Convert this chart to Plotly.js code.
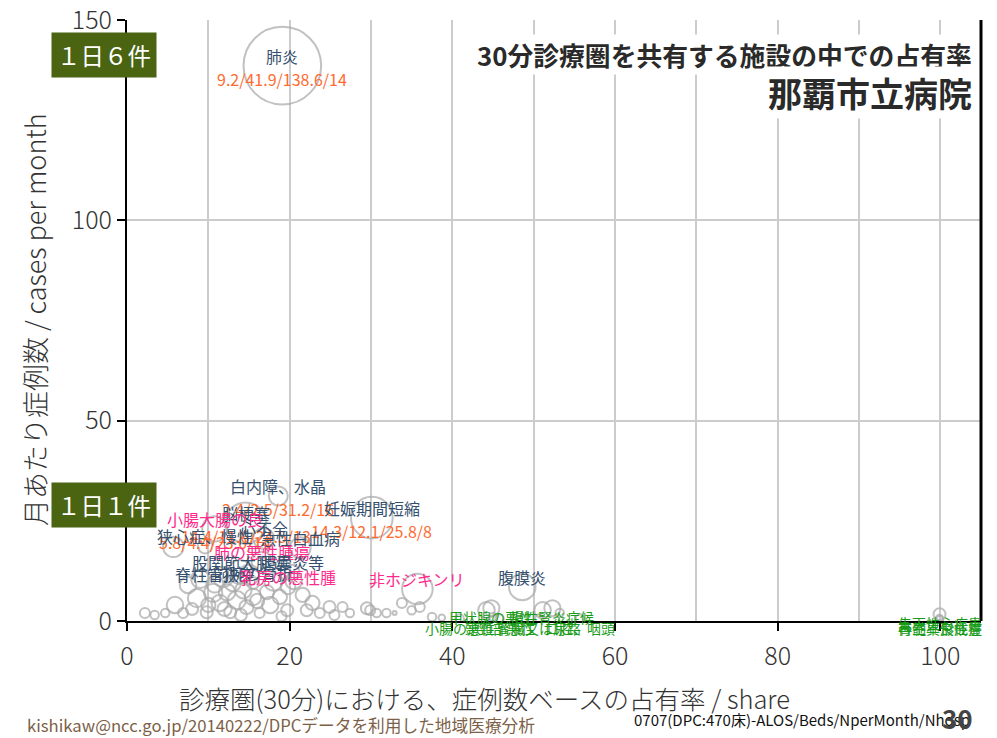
<!DOCTYPE html>
<html>
<head>
<meta charset="utf-8">
<script src="https://cdn.plot.ly/plotly-3.0.1.min.js"></script>
<style>html,body{margin:0;padding:0;background:#fff;}#chart{width:997px;height:738px;}</style>
</head>
<body>
<div id="chart"></div>
<script>
// ---- labeled diseases ----
const labNames = ['肺炎','白内障、水晶','妊娠期間短縮','脳梗塞','小腸大腸の良','狭心症、慢性','心不全','急性白血病','肺の悪性腫瘍','股関節大腿近','胆嚢炎等','脊柱管狭窄','前腕の骨折','乳房の悪性腫','非ホジキンリ','腹膜炎',
                  '甲状腺の悪性','慢性腎炎症候','小腸の悪性','頭頸部悪性','腎臓又は尿路','口腔、咽頭','先天性心疾患','再生不良性貧','骨髄異形成症'];
const labShare = [19.1,18.6,30.1,14.6,10.8,9.6,16.8,21.3,16.6,13.9,20.3,10.8,15.5,19.8,35.7,48.6,
                  44.8,52.3,40.9,45.8,50.7,55.7,99.9,99.9,99.9];
const labPerMonth = [138.6,31.2,25.8,24.5,23.0,18.7,20.6,18.3,14.7,12.2,12.2,9.2,9.5,8.5,8.0,8.5,
                  3.2,3.2,0.6,0.6,0.6,0.6,1.7,0.6,0.4];
const labBeds = [41.9,2.5,12.1,11.6,4.4,1.5,3.0,3.0,3.0,4.0,1.5,2.0,1.0,1.5,6.5,4.9,
                  1.8,1.8,0.5,0.5,0.5,0.5,1.0,0.4,0.3];
const labALOS = [9.2,2.4,14.3,14.4,5.8,null,null,null,null,null,null,null,null,null,null,null,
                  null,null,null,null,null,null,null,null,null];
const labNhosp = [14,16,8,13,14,null,null,null,null,null,null,null,null,null,null,null,
                  null,null,null,null,null,null,null,null,null];
const labGroup = ['b','b','b','b','p','b','b','b','p','b','b','b','b','p','p','b',
                  'g','g','g','g','g','g','g','g','g'];

// ---- unlabeled diseases ----
const share = [2.2,3.4,4.7,5.9,6.9,8.6,9.8,10.6,11.4,12.3,12.7,13.5,14.3,14.7,15.5,16.3,17.2,17.6,18.8,19.7,
               21.6,22.1,23.7,24.9,26.5,27.4,29.5,30.7,31.9,32.9,36.0,29.9,33.8,35.0,37.5,38.7,44.2,45.0,51.1,53.2,
               5.7,7.5,9.0,11.8,13.0,15.0,16.0,18.0,20.5,22.8,12.0,14.0,10.0,8.0,25.5,19.0];
const perMonth = [2.0,1.5,2.0,4.0,2.0,5.7,2.2,7.0,4.5,7.2,2.2,5.2,7.7,3.5,6.0,2.0,7.2,4.0,6.0,2.7,
               6.5,2.7,2.0,3.5,3.5,2.0,3.2,2.0,2.0,2.0,3.5,2.7,4.5,2.7,1.0,0.8,2.7,1.0,2.7,2.0,
               18.5,9.0,10.5,11.0,9.5,11.5,5.0,9.8,10.0,4.5,3.0,1.5,4.0,3.0,1.5,1.2];
const beds = [0.7,0.5,0.5,1.9,0.7,2.3,1.0,2.3,1.9,1.9,1.0,2.3,1.9,1.4,1.9,0.7,1.4,1.9,1.4,1.0,
               1.4,1.0,0.7,1.0,0.7,0.5,1.0,0.5,0.5,0.1,0.7,0.7,0.7,0.5,0.5,0.3,1.9,0.5,1.9,0.5,
               2.9,1.9,2.3,2.9,1.9,2.9,1.4,2.3,1.9,1.4,1.4,1.0,1.4,1.0,0.7,0.7];

// ---- text ----
const titleLine1 = '30分診療圏を共有する施設の中での占有率';
const titleLine2 = '那覇市立病院';
const xTitle = '診療圏(30分)における、症例数ベースの占有率 / share';
const yTitle = '月あたり症例数 / cases per month';
const refLines = [{text:'１日６件', y:141.3},{text:'１日１件', y:29}];
const footLeft = 'kishikaw@ncc.go.jp/20140222/DPCデータを利用した地域医療分析';
const footRight = '0707(DPC:470床)-ALOS/Beds/NperMonth/Nhosp';
const pageNo = '30';

const F = '"Noto Sans CJK JP", "Noto Sans", sans-serif';
const groupColor = {b:'#34506e', p:'#ff2a8c', g:'#1a9c1a'};

const bubble = {
  type:'scatter', mode:'markers',
  x: share.concat(labShare), y: perMonth.concat(labPerMonth),
  marker:{size: beds.concat(labBeds), sizemode:'area', sizeref:0.0139, sizemin:2,
          color:'rgba(0,0,0,0)', line:{color:'#a8a8a8', width:2}},
  hoverinfo:'skip', showlegend:false
};

const ann = [];
for (let i=0;i<labNames.length;i++){
  const g = labGroup[i];
  ann.push({x:labShare[i], y:labPerMonth[i], xref:'x', yref:'y', text:labNames[i], showarrow:false,
    yshift: g==='g' ? -9 : 10, font:{family:F, size: g==='g'?14:16, color:groupColor[g]}});
  if (labALOS[i]!==null){
    ann.push({x:labShare[i], y:labPerMonth[i], xref:'x', yref:'y', showarrow:false, yshift:-13,
      text: labALOS[i].toFixed(1)+'/'+labBeds[i].toFixed(1)+'/'+labPerMonth[i].toFixed(1)+'/'+labNhosp[i],
      font:{family:F, size:16, color:'#ff6a30'}});
  }
}
refLines.forEach(r=>{
  ann.push({x:-0.0275, xref:'paper', xanchor:'center', y:r.y, yref:'y', yanchor:'middle', text:r.text, showarrow:false,
    bgcolor:'#4a6412', borderpad:5, font:{family:F, size:23.5, color:'#ffffff'}});
});
ann.push({x:0.992, y:0.942, xref:'paper', yref:'paper', xanchor:'right', yanchor:'middle', text:'<b>'+titleLine1+'</b>',
  showarrow:false, bgcolor:'#ffffff', font:{family:F, size:25.8, color:'#2a2a2a'}});
ann.push({x:0.992, y:0.879, xref:'paper', yref:'paper', xanchor:'right', yanchor:'middle', text:'<b>'+titleLine2+'</b>',
  showarrow:false, bgcolor:'#ffffff', font:{family:F, size:34, color:'#2a2a2a'}});
// axis titles
ann.push({x:0.419, y:-0.1265, xref:'paper', yref:'paper', xanchor:'center', yanchor:'middle', text:xTitle,
  showarrow:false, font:{family:F, size:25.5, color:'#333333', weight:300}});
ann.push({x:-0.1076, y:0.501, xref:'paper', yref:'paper', xanchor:'center', yanchor:'middle', text:yTitle, textangle:-90,
  showarrow:false, font:{family:F, size:27, color:'#333333', weight:300}});
// footer
ann.push({x:-0.1193, y:-0.173, xref:'paper', yref:'paper', xanchor:'left', yanchor:'middle', text:footLeft,
  showarrow:false, font:{family:F, size:16.7, color:'#7d5f48'}});
ann.push({x:0.5918, y:-0.1647, xref:'paper', yref:'paper', xanchor:'left', yanchor:'middle', text:footRight,
  showarrow:false, font:{family:F, size:15, color:'#111111'}});
ann.push({x:0.973, y:-0.161, xref:'paper', yref:'paper', xanchor:'center', yanchor:'middle', text:'<b>'+pageNo+'</b>',
  showarrow:false, font:{family:F, size:26, color:'#444444'}});

const layout = {
  width:997, height:738,
  margin:{l:127, r:16, t:20, b:117},
  paper_bgcolor:'#ffffff', plot_bgcolor:'#ffffff',
  showlegend:false,
  font:{family:F, color:'#333333'},
  xaxis:{range:[0,105], dtick:20, tick0:0, showgrid:true, gridcolor:'#cccccc', gridwidth:2,
    minor:{dtick:10, showgrid:true, gridcolor:'#cccccc', gridwidth:2},
    zeroline:false, showline:true, linecolor:'#000000', linewidth:2,
    ticks:'outside', ticklen:8, tickwidth:2, tickcolor:'#000000', ticklabelstandoff:4,
    ticklabeloverflow:'allow',
    tickfont:{family:F, size:25, color:'#333333', weight:300}},
  yaxis:{range:[0,150], dtick:50, tick0:0, showgrid:true, gridcolor:'#cccccc', gridwidth:2,
    zeroline:false, showline:true, linecolor:'#000000', linewidth:2,
    ticks:'outside', ticklen:8, tickwidth:2, tickcolor:'#000000',
    ticklabeloverflow:'allow',
    tickfont:{family:F, size:25, color:'#333333', weight:300}},
  shapes:[{type:'line', xref:'paper', yref:'paper', x0:1, x1:1, y0:0, y1:1, line:{color:'#000000', width:3}}],
  annotations: ann
};
Plotly.newPlot('chart', [bubble], layout, {displayModeBar:false, staticPlot:true});
</script>
</body>
</html>
